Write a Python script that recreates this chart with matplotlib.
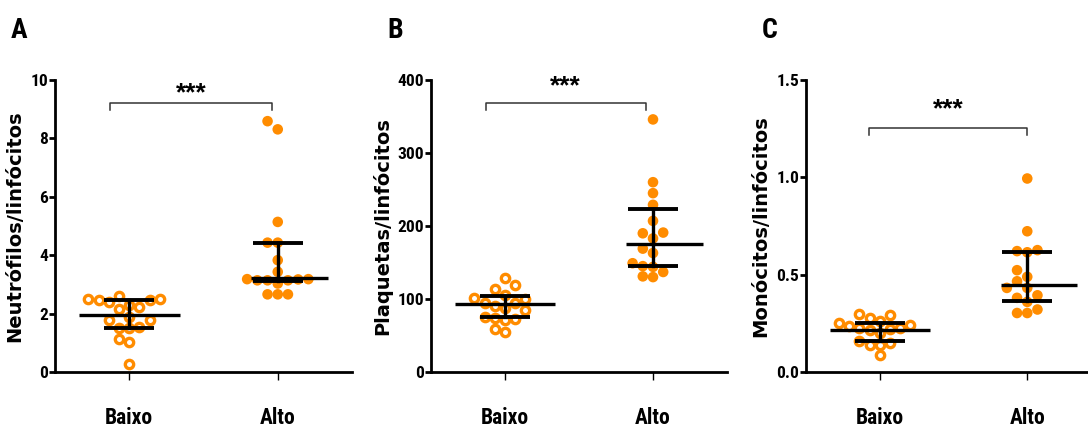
import numpy as np
import matplotlib
matplotlib.use("Agg")
import matplotlib.pyplot as plt

groups = ["Baixo", "Alto"]

# A - neutrofilos/linfocitos
nlr_baixo = [2.51, 2.48, 2.40, 2.29, 2.48, 2.51, 2.61, 1.89, 2.23, 2.17,
             1.77, 1.77, 1.49, 1.49, 1.54, 1.14, 1.03, 0.29]
nlr_alto = [8.59, 8.31, 5.14, 4.43, 4.43, 3.83, 3.43, 3.18, 3.14, 3.18,
            3.14, 3.14, 3.17, 3.03, 2.66, 2.66, 2.66]
nlr_stats = {"Baixo": (1.94, 1.49, 2.46), "Alto": (3.22, 3.11, 4.43)}

# B - plaquetas/linfocitos
plr_baixo = [106, 99.7, 94.6, 129, 88.2, 114, 84.6, 119, 90.5, 94.6,
             102, 74.5, 70.9, 73.1, 75.4, 54.9, 59.4]
plr_alto = [346, 260, 245, 229, 207, 190, 191, 183, 169, 163,
            145, 144, 149, 137, 130, 131]
plr_stats = {"Baixo": (92.8, 75, 104), "Alto": (176, 145, 223)}

# C - monocitos/linfocitos
mlr_baixo = [0.252, 0.218, 0.226, 0.221, 0.278, 0.295, 0.298, 0.226, 0.235,
             0.243, 0.264, 0.158, 0.141, 0.201, 0.141, 0.149, 0.086]
mlr_alto = [0.994, 0.723, 0.621, 0.615, 0.626, 0.523, 0.466, 0.489, 0.432,
            0.432, 0.381, 0.394, 0.360, 0.321, 0.303, 0.303]
mlr_stats = {"Baixo": (0.218, 0.158, 0.252), "Alto": (0.449, 0.363, 0.617)}

ORANGE = "#FF8C00"
NARROW = dict(fontfamily=["Roboto Condensed", "DejaVu Sans"], fontstretch="condensed",
              fontweight="bold")

W, H = 1088, 428


def swarm_offsets(ax, values, center, d):
    # simple beeswarm in pixel space: points go into columns d pixels apart
    values = np.asarray(values, dtype=float)
    pts = ax.transData.transform(np.column_stack([np.full(len(values), center), values]))
    ypx = pts[:, 1]
    px_per_unit = ax.transData.transform([[1, 0]])[0, 0] - ax.transData.transform([[0, 0]])[0, 0]
    cands = [0] + [s * j for j in range(1, 12) for s in (-1, 1)]
    placed = []
    offsets = np.zeros(len(values))
    for i in np.argsort(values):
        for c in cands:
            x = c * d
            if all(abs(x - px) >= d * 0.98 or abs(ypx[i] - py) >= d for px, py in placed):
                break
        placed.append((x, ypx[i]))
        offsets[i] = x / px_per_unit
    return offsets


def panel(left_px, right_px, ylabel, yticks, ticklabels, ymax, baixo, alto, stats,
          bracket, letter):
    ax = fig.add_axes([left_px / W, (H - 372) / H, (right_px - left_px) / W, (372 - 80) / H])
    ax.set_xlim(-0.5, 1.5)
    ax.set_ylim(0, ymax)

    for side in ["top", "right"]:
        ax.spines[side].set_visible(False)
    for side in ["left", "bottom"]:
        ax.spines[side].set_linewidth(2)

    ax.set_yticks(yticks)
    ax.set_yticklabels(ticklabels, fontsize=12.5, **NARROW)
    ax.tick_params(axis="y", length=4, width=2, pad=1)
    ax.set_xticks([0, 1])
    ax.set_xticklabels(groups, fontsize=15.5, **NARROW)
    ax.tick_params(axis="x", length=6, width=1, pad=19)
    ax.set_ylabel(ylabel, fontfamily="DejaVu Sans", fontweight="bold", fontsize=14, labelpad=4)

    # points
    xb = swarm_offsets(ax, baixo, 0, 10.2)
    ax.scatter(xb, baixo, s=36, facecolors="white", edgecolors=ORANGE, linewidths=2.4,
               zorder=2, clip_on=False)
    xa = 1 + swarm_offsets(ax, alto, 1, 10.2)
    ax.scatter(xa, alto, s=58, color=ORANGE, edgecolors="none", zorder=2, clip_on=False)

    # median and interquartile range
    for i, g in enumerate(groups):
        med, q1, q3 = stats[g]
        mlo, mhi = (-0.34, 0.34) if g == "Baixo" else (-0.18, 0.34)
        ax.plot([i + mlo, i + mhi], [med, med], color="black", lw=2.4, zorder=3,
                solid_capstyle="butt")
        for q in (q1, q3):
            ax.plot([i - 0.17, i + 0.17], [q, q], color="black", lw=2.8, zorder=3,
                    solid_capstyle="butt")
        ax.plot([i, i], [q1, q3], color="black", lw=2.4, zorder=3)

    # significance bracket
    x0, x1, yb, ydrop, ytxt = bracket
    ax.plot([x0, x0, x1, x1], [yb - ydrop, yb, yb, yb - ydrop], color="#333333", lw=1.1,
            clip_on=False)
    ax.text((x0 + x1) / 2, ytxt, "***", ha="center", va="center", fontfamily="Liberation Sans",
            fontweight="bold", fontsize=19)

    fig.text((left_px - 36) / W, 1 - 30 / H, letter, ha="center", va="center",
             fontsize=20, **NARROW)
    return ax


fig = plt.figure(figsize=(W / 100, H / 100), dpi=100)

panel(55, 352, "Neutrófilos/linfócitos", [0, 2, 4, 6, 8, 10],
      ["0", "2", "4", "6", "8", "10"], 10, nlr_baixo, nlr_alto, nlr_stats,
      (-0.13, 0.96, 9.22, 0.25, 9.55), "A")
panel(431, 727, "Plaquetas/linfócitos", [0, 100, 200, 300, 400],
      ["0", "100", "200", "300", "400"], 400, plr_baixo, plr_alto, plr_stats,
      (-0.13, 0.95, 369, 10, 392), "B")
panel(806, 1101, "Monócitos/linfócitos", [0, 0.5, 1.0, 1.5],
      ["0.0", "0.5", "1.0", "1.5"], 1.5, mlr_baixo, mlr_alto, mlr_stats,
      (-0.07, 1.0, 1.253, 0.037, 1.35), "C")

fig.savefig("out.png", dpi=100)
